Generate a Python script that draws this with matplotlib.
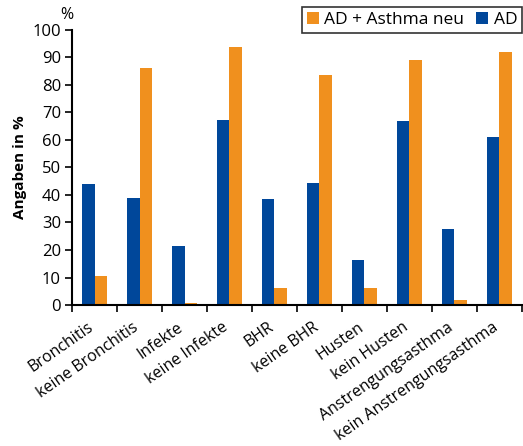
import numpy as np
import matplotlib.pyplot as plt

plt.rcParams['font.family'] = ['Open Sans', 'DejaVu Sans']

kategorien = ['Bronchitis', 'keine Bronchitis', 'Infekte', 'keine Infekte', 'BHR',
              'keine BHR', 'Husten', 'kein Husten', 'Anstrengungsasthma',
              'kein Anstrengungsasthma']
ad = [44, 38.7, 21.4, 67.2, 38.6, 44.2, 16.2, 66.7, 27.5, 61.1]
ad_asthma = [10.5, 86.1, 0.7, 93.8, 6.1, 83.4, 6.2, 88.9, 1.7, 92.0]

blau = '#00479a'
orange = '#f0901e'

fig = plt.figure(figsize=(5.23, 4.46), dpi=100)
ax = fig.add_axes([0.1377, 0.316, 0.8603, 0.6174])

x = np.arange(len(kategorien)) + 0.5
b = 0.28
ax.bar(x - b / 2, ad, b, color=blau, label='AD')
ax.bar(x + b / 2, ad_asthma, b, color=orange, label='AD + Asthma neu')

ax.set_xlim(0, len(kategorien))
ax.set_ylim(0, 100)
ax.set_yticks(np.arange(0, 101, 10))
ax.tick_params(axis='y', labelsize=12, direction='out', length=5, width=1.2, pad=3)

# Striche an den Gruppengrenzen, Beschriftung in der Gruppenmitte
ax.set_xticks(np.arange(len(kategorien) + 1))
ax.set_xticklabels([])
ax.tick_params(axis='x', which='major', direction='out', length=5, width=1.2)
ax.set_xticks(x - 0.06, minor=True)
ax.set_xticklabels(kategorien, minor=True, rotation=35, ha='right', va='center',
                   rotation_mode='anchor', fontsize=11.5)
ax.tick_params(axis='x', which='minor', length=0, pad=15)

for s in ['top', 'right']:
    ax.spines[s].set_visible(False)
for s in ['left', 'bottom']:
    ax.spines[s].set_linewidth(1.5)

ax.set_ylabel('Angaben in %', fontsize=11, fontweight='bold', labelpad=4)
ax.text(-0.012, 1.025, '%', transform=ax.transAxes, fontsize=11.5, ha='center', va='bottom')

h, l = ax.get_legend_handles_labels()
leg = fig.legend(h[::-1], l[::-1], loc='upper right', bbox_to_anchor=(0.999, 0.985),
                 ncol=2, fontsize=12.5, frameon=True, fancybox=False,
                 handlelength=0.7, handleheight=0.7, handletextpad=0.3,
                 columnspacing=0.7, borderpad=0.3, borderaxespad=0)
leg.get_frame().set_edgecolor('black')
leg.get_frame().set_linewidth(1.2)

fig.savefig('out.png', dpi=100)
